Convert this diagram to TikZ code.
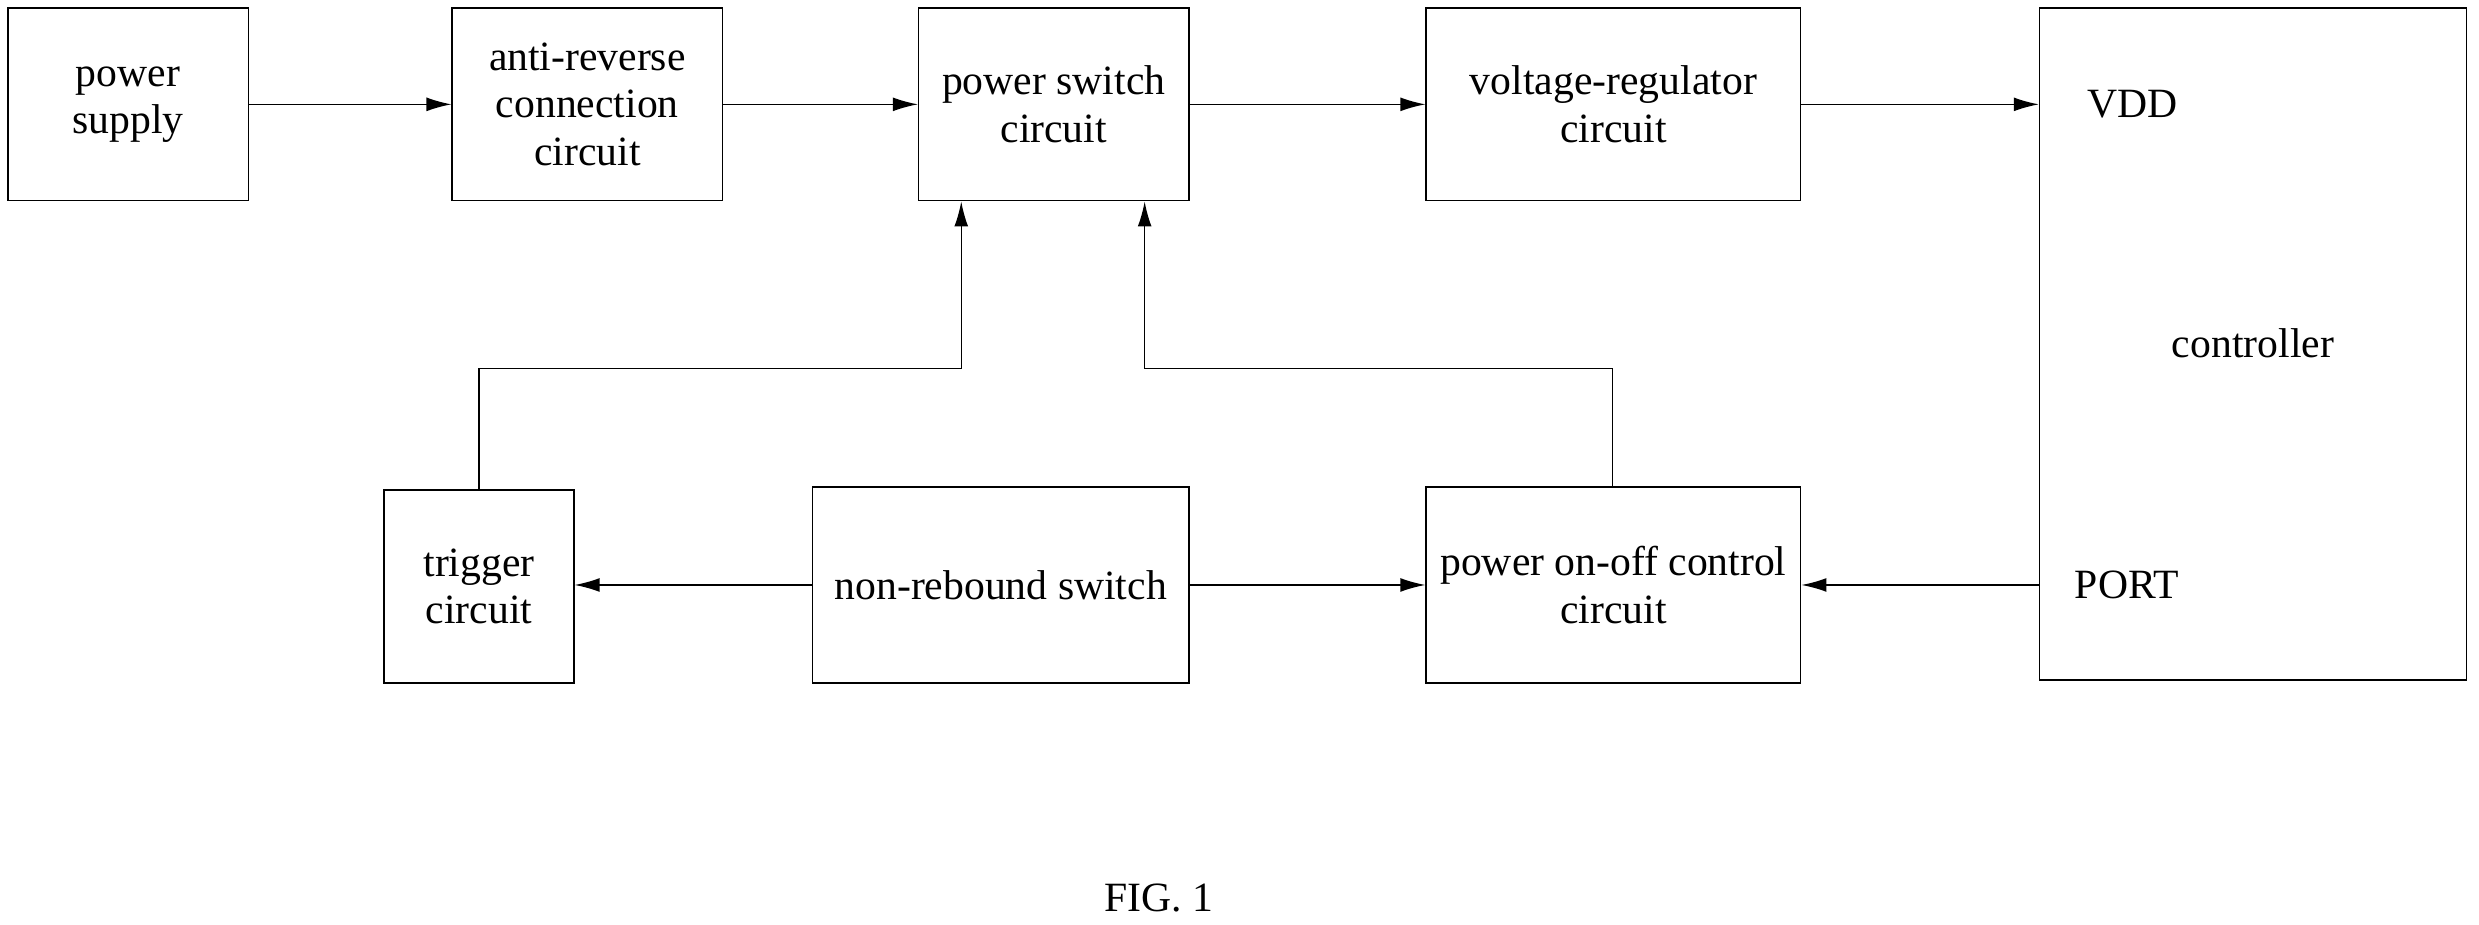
\documentclass[tikz,border=0pt]{standalone}
\usepackage{fontspec}
\setmainfont{Liberation Serif}
\usetikzlibrary{arrows.meta}
\begin{document}
\begin{tikzpicture}[x=0.02cm,y=-0.02cm,
  box/.style={draw,line width=0.5pt,inner sep=0,align=center,font=\fontsize{15}{17}\selectfont},
  lbl/.style={font=\fontsize{15}{17}\selectfont,inner sep=0},
  arr/.style={-{Latex[length=9pt,width=5pt]},line width=0.5pt},
  ln/.style={line width=0.5pt}]
\useasboundingbox (0,0) rectangle (1568,585);
\newcommand\bx[5]{\node[box,minimum width={(#4-#2)*0.02cm},minimum height={(#5-#3)*0.02cm}] (#1) at ({(#2+#4)/2},{(#3+#5)/2}) {};}
\bx{ps}{5}{5}{157}{127}
\bx{ar}{286}{5}{457}{127}
\bx{sw}{581}{5}{752}{127}
\bx{vr}{902}{5}{1139}{127}
\bx{ct}{1290}{5}{1560}{430}
\bx{tr}{243}{310}{363}{432}
\bx{nr}{514}{308}{752}{432}
\bx{oc}{902}{308}{1139}{432}
\node[box,draw=none] at (ps) {power\\supply};
\node[box,draw=none] at (ar) {anti-reverse\\connection\\circuit};
\node[box,draw=none] at (sw) {power switch\\circuit};
\node[box,draw=none] at (vr) {voltage-regulator\\circuit};
\node[box,draw=none] at (tr) {trigger\\circuit};
\node[box,draw=none] at (nr) {non-rebound switch};
\node[box,draw=none] at (oc) {power on-off control\\circuit};
\node[lbl,anchor=west] (vdd) at (1320,66) {VDD};
\node[lbl,anchor=west] (port) at (1312,370) {PORT};
\node[lbl] (ctl) at (1425,217) {controller};
\node[lbl] (fig) at (733,568) {FIG. 1};
\draw[arr] (ps.east|-0,66) -- (ar.west|-0,66);
\draw[arr] (ar.east|-0,66) -- (sw.west|-0,66);
\draw[arr] (sw.east|-0,66) -- (vr.west|-0,66);
\draw[arr] (vr.east|-0,66) -- (ct.west|-0,66);
\draw[arr] (nr.west|-0,370) -- (tr.east|-0,370);
\draw[arr] (nr.east|-0,370) -- (oc.west|-0,370);
\draw[arr] (ct.west|-0,370) -- (oc.east|-0,370);
\coordinate (a1) at (303,233);
\coordinate (a2) at (608,233);
\coordinate (b1) at (1020,233);
\coordinate (b2) at (724,233);
\draw[arr] (tr.north-|a1) -- (a1) -- (a2) -- (sw.south-|a2);
\draw[arr] (oc.north-|b1) -- (b1) -- (b2) -- (sw.south-|b2);
\end{tikzpicture}
\end{document}
